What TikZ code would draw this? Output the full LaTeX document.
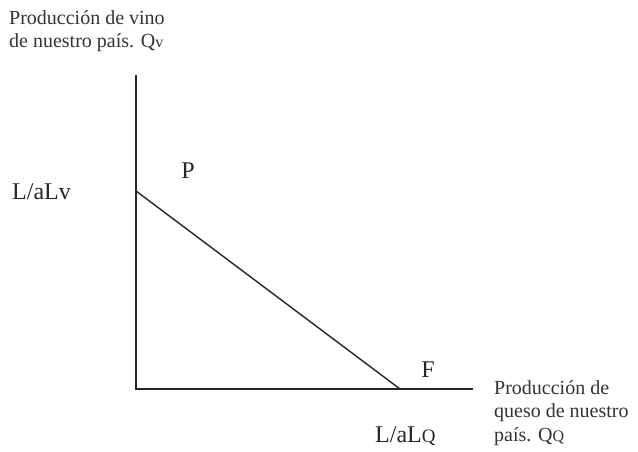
\documentclass[tikz,border=0pt]{standalone}
\usepackage{fontspec}
\setmainfont{Liberation Serif}
\newcommand{\smq}[1]{{\fontsize{16}{16}\selectfont #1}}
\newcommand{\smQ}[1]{{\fontsize{19}{19}\selectfont #1}}
\begin{document}
\begin{tikzpicture}[x=1pt,y=-1pt,
  axis/.style={line width=1.4pt,draw=black!85},
  lbl/.style={font=\fontsize{20}{23.5}\selectfont,text=black!80,inner sep=0pt},
  big/.style={font=\fontsize{24}{24}\selectfont,text=black!85,inner sep=0pt}]
\useasboundingbox (0,0) rectangle (638,452);
\coordinate (top) at (136,75);
\coordinate (O) at (136,389);
\coordinate (right) at (473,389);
\coordinate (A) at (136,191);
\coordinate (B) at (400,389);
\draw[axis] (top) -- (O) -- (right);
\draw[axis] (A) -- (B);
\node[lbl,anchor=west,align=left] (ylab) at (9,31) {Producción de vino\\de nuestro país. Q\smq{v}};
\node[lbl,anchor=west,align=left] (xlab) at (494,413) {Producción de\\queso de nuestro\\país. Q\smq{Q}};
\node[big] (P) at (188,171) {P};
\node[big] (F) at (428,370) {F};
\node[big,anchor=west] (Lv) at (12,192) {L/aLv};
\node[big,anchor=west] (LQ) at (375,436) {L/aL\smQ{Q}};
\end{tikzpicture}
\end{document}
